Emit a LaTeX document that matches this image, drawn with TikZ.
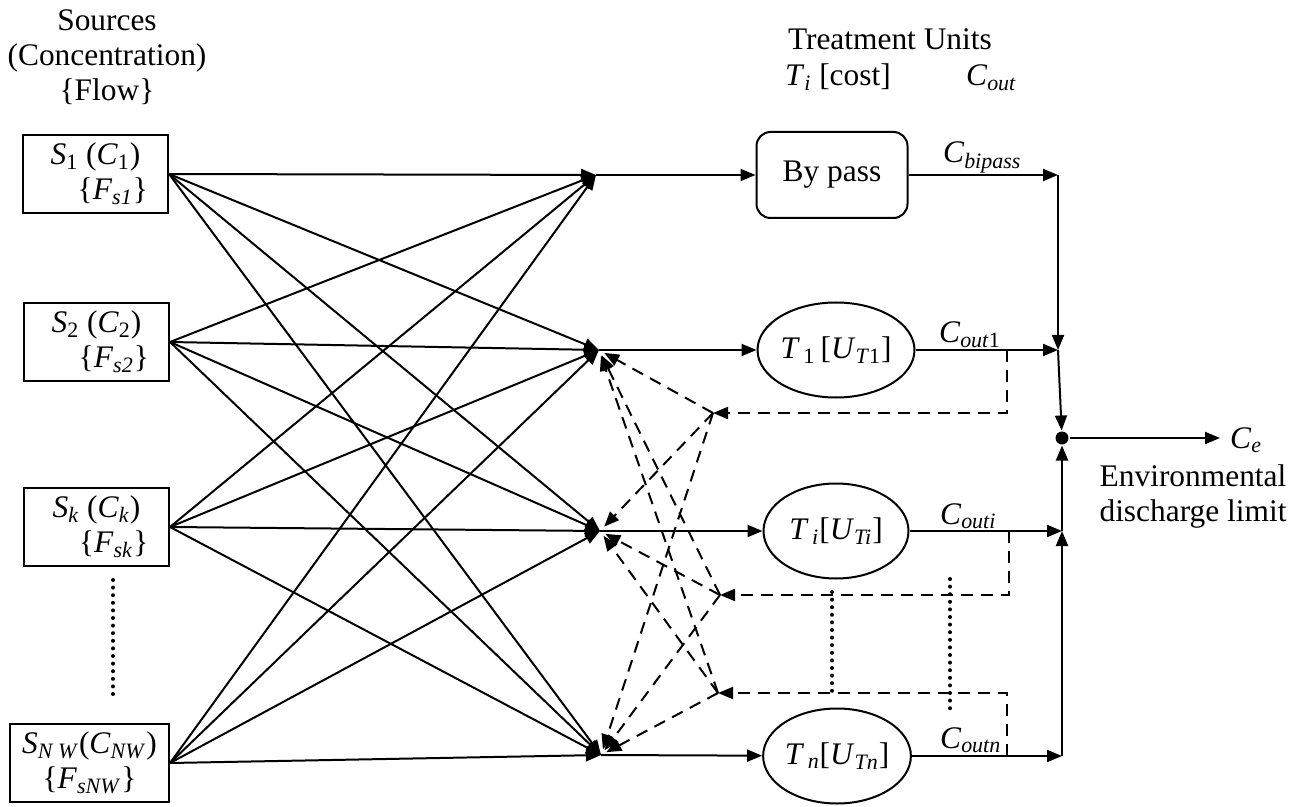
\documentclass[tikz,border=0pt]{standalone}
\usepackage{fontspec}
\setmainfont{Liberation Serif}
\usetikzlibrary{arrows.meta,shapes.geometric}
\newcommand{\vsub}[2]{\textit{#1}\textsubscript{#2}}
\tikzset{
source/.style={draw=black,rectangle,minimum width=72.5pt,minimum height=39pt,inner sep=1pt,align=center,anchor=east},
unit/.style={draw=black,ellipse,minimum width=72.5pt,minimum height=47.5pt,inner sep=0pt},
bypassbox/.style={draw=black,rectangle,rounded corners=7pt,minimum width=75.5pt,minimum height=43pt},
junc/.style={circle,fill=black,inner sep=0pt,minimum size=6.5pt},
flow/.style={draw=black,-{Triangle[length=7.5pt,width=6pt]}},
recycle/.style={flow,dash pattern=on 6pt off 4pt},
gap/.style={draw=black,line width=2pt,line cap=round,dash pattern=on 0pt off 3.8pt},
label/.style={inner sep=0pt,anchor=base west},
}

\begin{document}
\begin{tikzpicture}[x=0.5pt,y=-0.5pt,line width=1pt,
font=\fontsize{15.7}{17.5}\selectfont]
\useasboundingbox (0,0) rectangle (1310,807);
\node[align=center,anchor=north,inner sep=0pt] (srclabel) at (107,9)
  {Sources\\(Concentration)\\\{Flow\}};
\node[label] (tulabel) at (787,50) {Treatment Units};
\node[label] (costlabel) at (784,86) {\vsub{T}{\textit{i}} [cost]};
\node[label] (coutlabel) at (965,86) {\vsub{C}{\textit{out}}};

\node[source] (s1) at (169,174)
  {\vsub{S}{1} (\vsub{C}{1})\\\hspace*{1.1em}\{\vsub{F}{\textit{s1}}\}};
\node[source] (s2) at (170,342)
  {\vsub{S}{2} (\vsub{C}{2})\\\hspace*{1.1em}\{\vsub{F}{\textit{s2}}\}};
\node[source] (sk) at (170,527)
  {\vsub{S}{\textit{k}} (\vsub{C}{\textit{k}})\\\hspace*{1.1em}\{\vsub{F}{\textit{sk}}\}};
\node[source,minimum width=79.5pt] (snw) at (170,763)
  {\vsub{S}{\textit{N W}}(\vsub{C}{\textit{NW}})\\\{\vsub{F}{\textit{sNW}}\}};
\draw[gap] (113,580) -- (113,697);

\coordinate (m0) at (596,175);
\coordinate (m1) at (599,350);
\coordinate (mi) at (600,531);
\coordinate (mn) at (601,755);

\path (s1.east) edge[flow] (m0) edge[flow] (m1) edge[flow] (mi) edge[flow] (mn);
\path (s2.east) edge[flow] (m0) edge[flow] (m1) edge[flow] (mi) edge[flow] (mn);
\path (sk.east) edge[flow] (m0) edge[flow] (m1) edge[flow] (mi) edge[flow] (mn);
\path (snw.east) edge[flow] (m0) edge[flow] (m1) edge[flow] (mi) edge[flow] (mn);

\node[bypassbox] (bypass) at (832,175) {By pass};
\node[unit] (t1) at (836,350) {\vsub{T}{\,1}\,[\vsub{U}{\textit{T}1}]};
\node[unit] (ti) at (836,531) {\vsub{T}{\,\textit{i}}[\vsub{U}{\textit{Ti}}]};
\node[unit] (tn) at (837,756) {\vsub{T}{\,\textit{n}}[\vsub{U}{\textit{Tn}}]};

\draw[flow] (m0) -- (bypass);
\draw[flow] (m1) -- (t1);
\draw[flow] (mi) -- (ti);
\draw[flow] (mn) -- (tn);

\coordinate (b0) at (1058,175);
\coordinate (b1) at (1058,350);
\coordinate (bi) at (1062,531);
\coordinate (bn) at (1062,756);
\node[junc] (je) at (1062,438) {};

\node[label] (cbyp) at (942,163) {\vsub{C}{\textit{bipass}}};
\node[label] (cout1) at (938,343) {\vsub{C}{\textit{out}1}};
\node[label] (couti) at (939,524) {\vsub{C}{\textit{outi}}};
\node[label] (coutn) at (939,748) {\vsub{C}{\textit{outn}}};

\draw[flow] (bypass) -- (b0);
\draw[flow] (b0) -- (b1);
\draw[flow] (t1) -- (b1);
\draw[flow] (b1) -- (je);
\draw[flow] (ti) -- (bi);
\draw[flow] (tn) -- (bn);
\draw[flow] (bn) -- (bi);
\draw[flow] (bi) -- (je);

\node[label] (ce) at (1229,448) {\vsub{C}{\textit{e}}};
\draw[flow,shorten >=4.5pt] (je) -- (je -| ce.west);
\node[align=center,anchor=north,inner sep=0pt] (envlimit) at (1193,464)
  {Environmental\\discharge limit};

\coordinate (tap1) at (1007,350);
\coordinate (tapi) at (1009,531);
\coordinate (tapn) at (1007,756);
\coordinate (r1) at (713,413);
\coordinate (ri) at (720,595);
\coordinate (rn) at (718,693);

\draw[recycle] (tap1) |- (r1);
\draw[recycle] (tapi) |- (ri);
\draw[recycle] (tapn) |- (rn);
\path (r1) edge[recycle,shorten >=3pt] (m1) edge[recycle,shorten >=3pt] (mi)
  edge[recycle,shorten >=3pt] (mn);
\path (ri) edge[recycle,shorten >=3pt] (m1) edge[recycle,shorten >=3pt] (mi)
  edge[recycle,shorten >=3pt] (mn);
\path (rn) edge[recycle,shorten >=3pt] (m1) edge[recycle,shorten >=3pt] (mi)
  edge[recycle,shorten >=3pt] (mn);

\draw[gap] (832,592) -- (832,697);
\draw[gap] (950,579) -- (950,710);
\end{tikzpicture}
\end{document}
